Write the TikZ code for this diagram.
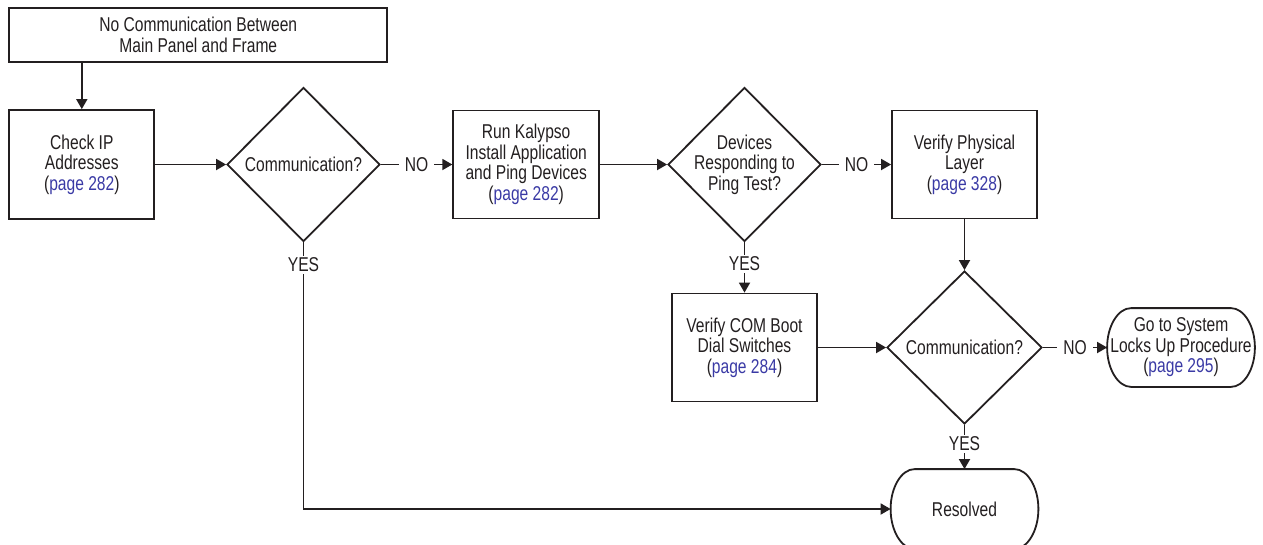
\documentclass[tikz,border=0pt]{standalone}
\usepackage{fontspec}
\setmainfont[FakeStretch=0.78]{Liberation Sans}
\usetikzlibrary{shapes.geometric,arrows.meta}
\definecolor{ink}{HTML}{231F20}
\definecolor{linkblue}{RGB}{58,58,165}
\newcommand\pgref[1]{(\textcolor{linkblue}{page #1})}
% #1 node, rx = 24pt, ry = half height (#2), bezier constants for ellipse quarter arcs
\newcommand\termoutline[2]{\draw ([xshift=24pt]#1.north west) -- ([xshift=-24pt]#1.north east)
  .. controls ([xshift=-10.75pt]#1.north east) and ([yshift=#2]#1.east) .. (#1.east)
  .. controls ([yshift=-#2]#1.east) and ([xshift=-10.75pt]#1.south east) .. ([xshift=-24pt]#1.south east)
  -- ([xshift=24pt]#1.south west)
  .. controls ([xshift=10.75pt]#1.south west) and ([yshift=-#2]#1.west) .. (#1.west)
  .. controls ([yshift=#2]#1.west) and ([xshift=10.75pt]#1.north west) .. cycle;}
\begin{document}
\begin{tikzpicture}[x=1pt,y=-1pt, line width=1.8pt, color=ink,
  font=\fontsize{20}{20.5}\selectfont,
  box/.style={draw, rectangle, align=center, inner sep=0pt},
  dia/.style={draw, diamond, align=center, inner sep=-25pt, minimum width=153pt, minimum height=154pt},
  term/.style={rectangle, align=center, inner sep=0pt},
  arr/.style={-{Triangle[length=10pt,width=11pt]}},
  lbl/.style={fill=white, inner xsep=6pt, inner ysep=2pt}]
\useasboundingbox (0,0) rectangle (1263,544);

\node[box, minimum width=378pt, minimum height=54pt] (start) at (198.3,34.8) {No Communication Between\\Main Panel and Frame};
\node[box, minimum width=145pt, minimum height=109pt] (chk) at (81.8,164.5) {Check IP\\Addresses\\\pgref{282}};
\node[dia] (d1) at (303.5,164.5) {Communication?};
\node[box, minimum width=146pt, minimum height=108pt] (run) at (526.2,164.5) {Run Kalypso\\Install Application\\and Ping Devices\\\pgref{282}};
\node[dia] (d2) at (744.5,164.5) {Devices\\Responding to\\Ping Test?};
\node[box, minimum width=145pt, minimum height=108pt] (phy) at (964.5,164.5) {Verify Physical\\Layer\\\pgref{328}};
\node[box, minimum width=145pt, minimum height=108pt] (com) at (744.5,347.5) {Verify COM Boot\\Dial Switches\\\pgref{284}};
\node[dia, minimum width=155pt, minimum height=153pt] (d3) at (964.5,347.5) {Communication?};
\node[term, minimum width=146pt, minimum height=77pt] (t1) at (1181,347.5) {Go to System\\Locks Up Procedure\\\pgref{295}};
\node[term, minimum width=146pt, minimum height=78pt] (res) at (964.5,509) {Resolved};
\termoutline{t1}{21.3pt}
\termoutline{res}{21.5pt}

\draw[arr] (chk.north |- start.south) -- (chk.north);
\draw[arr] (chk.east) -- (d1.west);
\draw[arr] (d1.east) -- node[lbl]{NO} (run.west);
\draw[arr] (run.east) -- (d2.west);
\draw[arr] (d2.east) -- node[lbl]{NO} (phy.west);
\draw[arr] (phy.south) -- (d3.north);
\draw[arr] (d2.south) -- node[lbl,pos=0.43]{YES} (com.north);
\draw[arr] (com.east) -- (d3.west);
\draw[arr] (d3.east) -- node[lbl]{NO} (t1.west);
\draw[arr] (d3.south) -- node[lbl,pos=0.43]{YES} (res.north);
\draw[arr] (d1.south) |- node[lbl,pos=0.042]{YES} (res.west);
\end{tikzpicture}
\end{document}
